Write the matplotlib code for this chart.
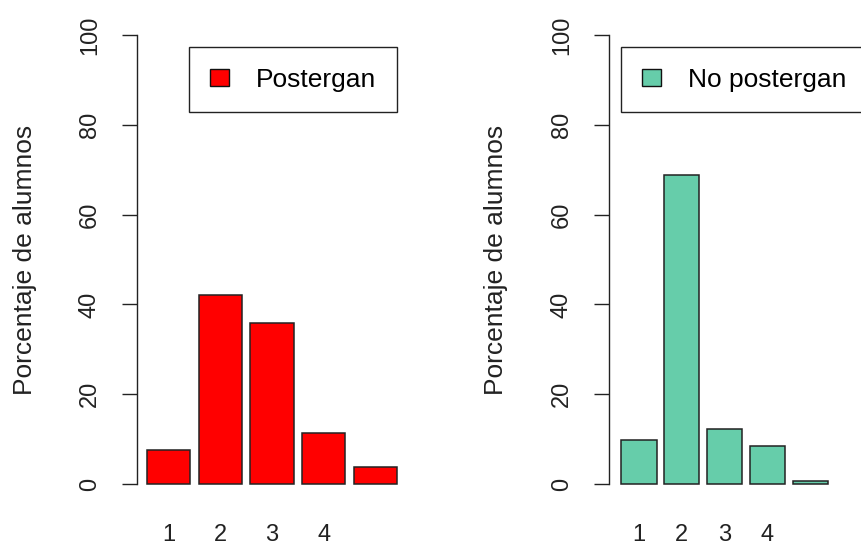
import numpy as np
import matplotlib
matplotlib.use("Agg")
import matplotlib.pyplot as plt
from matplotlib.patches import Patch

plt.rcParams['font.family'] = ['Liberation Sans', 'DejaVu Sans']

# data
categorias = ['1', '2', '3', '4', '']
postergan = [7.6, 42.2, 35.8, 11.4, 3.7]
no_postergan = [9.8, 68.8, 12.2, 8.5, 0.7]
ylabel = "Porcentaje de alumnos"
yticks = [0, 20, 40, 60, 80, 100]

W, H = 862, 545
fig = plt.figure(figsize=(W / 100, H / 100), dpi=100)

# R barplot style positions: width 1, space 0.2
pos = 0.7 + 1.2 * np.arange(len(categorias))


def panel(rect, values, color, name, xlim, label_x, legend_xy):
    ax = fig.add_axes(rect)
    ax.bar(pos, values, width=1.0, color=color, edgecolor='#222222', linewidth=1.1)
    ax.set_xlim(*xlim)
    ax.set_ylim(-4, 104)
    for s in ['top', 'right', 'bottom']:
        ax.spines[s].set_visible(False)
    ax.spines['left'].set_bounds(0, 100)
    ax.spines['left'].set_linewidth(1.0)
    ax.spines['left'].set_color('#222222')

    ax.set_yticks(yticks)
    ax.set_yticklabels([str(t) for t in yticks], rotation=90, va='center')
    ax.tick_params(axis='y', length=11, width=1.0, color='#222222', pad=15,
                   labelsize=17, labelcolor='#222222')

    labs = [c for c in categorias if c]
    ax.set_xticks(pos[:len(labs)])
    ax.set_xticklabels(labs)
    ax.tick_params(axis='x', length=0, pad=16, labelsize=17, labelcolor='#222222')

    ax.set_ylabel(ylabel, fontsize=19, color='#222222')
    ax.yaxis.set_label_coords(label_x, 0.5)

    ax.legend(handles=[Patch(facecolor=color, edgecolor='#111111', linewidth=1.0)],
              labels=[name], loc='upper left',
              bbox_to_anchor=(legend_xy[0] / W, 1 - legend_xy[1] / H),
              bbox_transform=fig.transFigure, borderaxespad=0,
              fontsize=19, frameon=True, fancybox=False, framealpha=1,
              edgecolor='#222222', handlelength=0.75, handleheight=0.65,
              handletextpad=1.0, borderpad=0.78)
    ax.get_legend().get_frame().set_linewidth(1.0)
    return ax


panel([137 / W, 43 / H, 270 / W, 485 / H], postergan, '#FF0000', 'Postergan',
      (-0.032, 6.232), -0.370, (189, 47))
panel([609 / W, 43 / H, 253 / W, 485 / H], no_postergan, '#66CDAA', 'No postergan',
      (-0.127, 6.94), -0.399, (621, 47))

fig.savefig("out.png", dpi=100)
